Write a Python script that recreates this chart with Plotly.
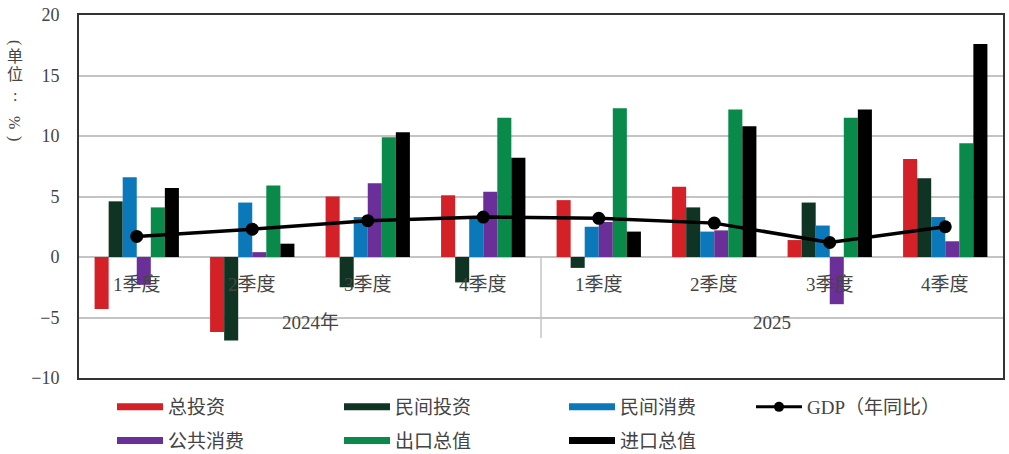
import plotly.graph_objects as go

# ---- data ----
quarters = ["1季度", "2季度", "3季度", "4季度", "1季度", "2季度", "3季度", "4季度"]
years = ["2024年", "2025"]
total_invest = [-4.3, -6.2, 5.0, 5.1, 4.7, 5.8, 1.4, 8.1]
private_invest = [4.6, -6.9, -2.5, -2.1, -0.9, 4.1, 4.5, 6.5]
private_consume = [6.6, 4.5, 3.3, 3.2, 2.5, 2.1, 2.6, 3.3]
public_consume = [-2.3, 0.4, 6.1, 5.4, 2.9, 2.2, -3.9, 1.3]
exports = [4.1, 5.9, 9.9, 11.5, 12.3, 12.2, 11.5, 9.4]
imports = [5.7, 1.1, 10.3, 8.2, 2.1, 10.8, 12.2, 17.6]
gdp = [1.7, 2.3, 3.0, 3.3, 3.2, 2.8, 1.2, 2.5]

series_names = ["总投资", "民间投资", "民间消费", "公共消费", "出口总值", "进口总值"]
series_vals = [total_invest, private_invest, private_consume, public_consume, exports, imports]
colors = ["#d42027", "#0f3424", "#0b78b9", "#6a2f98", "#0a8a4a", "#000000"]
gdp_name = "GDP（年同比）"

x = list(range(len(quarters)))

SERIF = "Liberation Serif, Noto Sans CJK SC"
TXT = "#444444"

fig = go.Figure()
for name, vals, c in zip(series_names, series_vals, colors):
    fig.add_trace(go.Bar(x=x, y=vals, name=name, marker=dict(color=c, line=dict(width=0)),
                         showlegend=False))

fig.add_trace(go.Scatter(x=x, y=gdp, mode="lines+markers", name=gdp_name,
                         line=dict(color="#000000", width=3.5),
                         marker=dict(color="#000000", size=13), showlegend=False))

# legend proxies (4 columns)
cols = {
    "legend": [0, 3],
    "legend2": [1, 4],
    "legend3": [2, 5],
}
for lg, idxs in cols.items():
    for i in idxs:
        fig.add_trace(go.Scatter(x=[None], y=[None], mode="lines", name=series_names[i],
                                 line=dict(color=colors[i], width=7), legend=lg,
                                 legendgroup=series_names[i]))
fig.add_trace(go.Scatter(x=[None], y=[None], mode="lines+markers", name=gdp_name,
                         line=dict(color="#000000", width=3), marker=dict(size=10, color="#000000"),
                         legend="legend4"))

L, R, T, B = 79, 6, 15, 76
W, H = 1009, 454
pw, ph = W - L - R, H - T - B


def px_x(p):
    return (p - L) / pw


def px_y(p):
    return (H - B - p) / ph


leg_common = dict(orientation="v", font=dict(family=SERIF, size=19, color=TXT),
                  bgcolor="rgba(0,0,0,0)", itemwidth=46, tracegroupgap=6,
                  xanchor="left", yanchor="top", itemclick=False,
                  xref="container", yref="container")
legend_x = [112, 339, 564, 751]
for lg, lx in zip(["legend", "legend2", "legend3", "legend4"], legend_x):
    fig.update_layout({lg: dict(leg_common, x=lx / W, y=1 - 388 / H)})

fig.update_layout(
    width=W, height=H,
    margin=dict(l=L, r=R, t=T, b=B, autoexpand=False),
    paper_bgcolor="white", plot_bgcolor="white",
    barmode="group", bargap=0.27, bargroupgap=0,
    font=dict(family=SERIF, color=TXT),
)
fig.update_xaxes(range=[-0.5, 7.5], showticklabels=False, showgrid=False, zeroline=False,
                 showline=True, mirror=True, linecolor="#333333", linewidth=2, ticks="")
fig.update_yaxes(range=[-10, 20], dtick=5, showgrid=True, gridcolor="#c4c4c4", gridwidth=1.5,
                 zeroline=True, zerolinecolor="#c4c4c4", zerolinewidth=1.5,
                 showline=True, mirror=True, linecolor="#333333", linewidth=2,
                 tickfont=dict(family="Liberation Serif", size=18, color=TXT),
                 ticklabelstandoff=14)

# category separators
fig.add_shape(type="line", x0=3.5, x1=3.5, y0=0, y1=-6.7, xref="x", yref="y",
              line=dict(color="#c4c4c4", width=1.5))

# category labels
for i, q in enumerate(quarters):
    fig.add_annotation(x=i, y=-2.3, xref="x", yref="y", text=q, showarrow=False,
                       font=dict(family=SERIF, size=19, color=TXT))
fig.add_annotation(x=1.5, y=-5.45, xref="x", yref="y", text=years[0], showarrow=False,
                   font=dict(family=SERIF, size=19, color=TXT))
fig.add_annotation(x=5.5, y=-5.45, xref="x", yref="y", text=years[1], showarrow=False,
                   font=dict(family=SERIF, size=19, color=TXT))

# vertical axis title (vertical writing)
for ch, yp, ang in [("(", 42, 90), ("单", 57, 0), ("位", 74, 0), (":", 95, 0),
                    ("%", 122, 90), (")", 138, 90)]:
    fig.add_annotation(x=px_x(15), y=px_y(yp), xref="paper", yref="paper", text=ch,
                       showarrow=False, textangle=ang, borderpad=0,
                       xanchor="center", yanchor="middle",
                       font=dict(family=SERIF, size=16, color=TXT))

fig.write_html("out.html", config={"displayModeBar": False},
               post_script="document.body.style.margin='0px';document.body.style.overflow='hidden';")
